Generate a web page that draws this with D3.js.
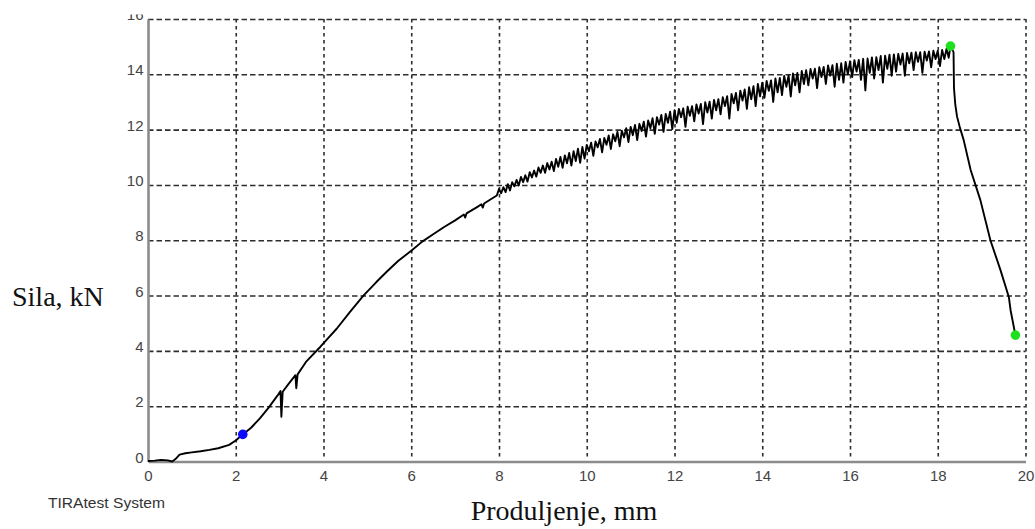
<!DOCTYPE html>
<html>
<head>
<meta charset="utf-8">
<script src="https://cdn.jsdelivr.net/npm/d3@7"></script>
<style>
  body { margin: 0; background: #fff; }
  .grid line { stroke: #2e2e2e; stroke-width: 1.6; }
  .grid .domain { display: none; }
  .ticks text { font-family: "Liberation Sans", Arial, sans-serif; font-size: 15px; fill: #444; }
  .ticks .domain { stroke: #8c8c8c; stroke-width: 2.6; }
  .label { font-family: "Liberation Serif", "Times New Roman", serif; font-size: 28px; fill: #111; }
</style>
</head>
<body>
<div id="chart"></div>
<script>

// tick labels
var xTicks = [0, 2, 4, 6, 8, 10, 12, 14, 16, 18, 20];
var yTicks = [0, 2, 4, 6, 8, 10, 12, 14, 16];

// smooth rising part of the curve: [elongation mm, force kN]
var rise = [[0, 0.02], [0.15, 0.03], [0.3, 0.06], [0.45, 0.04], [0.55, 0.0], [0.62, 0.08],
  [0.72, 0.25], [0.85, 0.3], [1.0, 0.33], [1.2, 0.37], [1.4, 0.42], [1.6, 0.48], [1.85, 0.6],
  [2.0, 0.76], [2.16, 0.98], [2.35, 1.22], [2.55, 1.56], [2.75, 1.95], [2.95, 2.38], [3.02, 2.55],
  [3.04, 1.62], [3.07, 2.52], [3.2, 2.8], [3.36, 3.12], [3.38, 2.65], [3.41, 3.15], [3.6, 3.6],
  [3.93, 4.15], [4.1, 4.45], [4.3, 4.8], [4.6, 5.4], [4.91, 6.0], [5.2, 6.48], [5.44, 6.86],
  [5.7, 7.25], [6.0, 7.62], [6.25, 7.95], [6.5, 8.22], [6.75, 8.48], [7.0, 8.72], [7.2, 8.93],
  [7.23, 8.82], [7.26, 8.97], [7.5, 9.2], [7.6, 9.3], [7.63, 9.18], [7.66, 9.33], [7.75, 9.42],
  [7.95, 9.62]];

// noisy band, one row per mm starting at bandStart, sampled every bandStep mm
var bandStart = 8;
var bandStep = 0.05;
var band = [
  [9.85, 9.70, 9.92, 9.74, 10.03, 9.80, 10.10, 9.95, 10.18, 9.98, 10.29, 10.10, 10.35, 10.12, 10.46, 10.27, 10.52, 10.30, 10.63, 10.44],
  [10.70, 10.44, 10.79, 10.56, 10.84, 10.50, 10.94, 10.66, 11.01, 10.62, 11.07, 10.78, 11.16, 10.70, 11.22, 10.86, 11.31, 10.80, 11.37, 10.95],
  [11.45, 11.22, 11.53, 11.05, 11.57, 11.36, 11.66, 11.18, 11.70, 11.45, 11.79, 11.30, 11.83, 11.58, 11.92, 11.40, 11.96, 11.72, 12.05, 11.55],
  [12.10, 11.80, 12.17, 11.62, 12.21, 11.95, 12.29, 11.75, 12.33, 12.05, 12.41, 11.85, 12.45, 12.18, 12.53, 11.92, 12.57, 12.25, 12.65, 12.02],
  [12.70, 12.25, 12.75, 12.45, 12.77, 12.10, 12.83, 12.50, 12.85, 12.30, 12.91, 12.58, 12.93, 12.20, 12.99, 12.62, 13.01, 12.40, 13.07, 12.70],
  [13.10, 12.55, 13.17, 12.85, 13.21, 12.40, 13.29, 12.95, 13.33, 12.70, 13.41, 13.05, 13.45, 12.75, 13.53, 13.10, 13.57, 12.85, 13.65, 13.20],
  [13.70, 13.15, 13.76, 13.40, 13.78, 13.00, 13.85, 13.35, 13.87, 13.25, 13.94, 13.55, 13.96, 13.20, 14.03, 13.60, 14.05, 13.35, 14.12, 13.65],
  [14.15, 13.60, 14.19, 13.85, 14.20, 13.50, 14.26, 13.90, 14.27, 13.65, 14.32, 13.95, 14.33, 13.55, 14.38, 13.80, 14.40, 13.70, 14.45, 14.00],
  [14.47, 13.90, 14.51, 14.10, 14.52, 13.80, 14.56, 13.42, 14.57, 14.05, 14.61, 13.85, 14.62, 14.15, 14.66, 13.70, 14.67, 14.20, 14.71, 13.95],
  [14.72, 14.10, 14.74, 14.35, 14.75, 13.95, 14.77, 14.40, 14.78, 14.15, 14.80, 14.45, 14.80, 14.05, 14.82, 14.50, 14.83, 14.25, 14.85, 14.55],
  [14.85, 14.30, 14.88, 14.55, 14.92, 14.60]
];

// peak and fracture drop
var drop = [[18.29, 15.02], [18.36, 14.8], [18.37, 13.5], [18.40, 12.9], [18.44, 12.47],
  [18.50, 12.1], [18.59, 11.63], [18.75, 10.54], [18.97, 9.46], [19.20, 8.0], [19.43, 6.92],
  [19.62, 5.95], [19.66, 5.47], [19.77, 4.57]];

// marked points (first blue, others green)
var markers = [[2.16, 0.98], [18.29, 15.02], [19.77, 4.57]];

var width = 1035, height = 529;

var x = d3.scaleLinear().domain([0, 20]).range([148, 1025.5]);
var y = d3.scaleLinear().domain([0, 16]).range([461.5, 19]);

var svg = d3.select("#chart").append("svg")
  .attr("width", width)
  .attr("height", height);

// the top label is cut off in the original screenshot
svg.append("defs").append("clipPath")
  .attr("id", "topcut")
  .append("rect")
  .attr("x", -160).attr("y", 14.5).attr("width", 170).attr("height", height);

// dashed grid
svg.append("g")
  .attr("class", "grid")
  .attr("transform", "translate(0," + y(0) + ")")
  .call(d3.axisBottom(x).tickValues(xTicks.slice(1)).tickSize(-(y(0) - y(16) - 5)).tickFormat(""))
  .selectAll("line")
  .attr("transform", "translate(0,-5)")
  .style("stroke-dasharray", "3.5,3.5");

svg.append("g")
  .attr("class", "grid")
  .attr("transform", "translate(" + x(0) + ",0)")
  .call(d3.axisLeft(y).tickValues(yTicks.slice(1)).tickSize(-(x(20) - x(0))).tickFormat(""))
  .selectAll("line")
  .style("stroke-dasharray", "5.5,3");

// axes with labels
var xAxis = d3.axisBottom(x).tickValues(xTicks).tickSize(0).tickSizeOuter(0).tickPadding(9);
var yAxis = d3.axisLeft(y).tickValues(yTicks).tickSize(0).tickSizeOuter(0).tickPadding(4.5);

svg.append("g")
  .attr("class", "ticks")
  .attr("transform", "translate(0," + y(0) + ")")
  .call(xAxis);

svg.append("g")
  .attr("class", "ticks")
  .attr("transform", "translate(" + x(0) + ",0)")
  .attr("clip-path", "url(#topcut)")
  .call(yAxis)
  .selectAll("text")
  .attr("dy", "0.04em");

// build the curve
var points = rise.slice();
band.forEach(function(row, i) {
  row.forEach(function(f, j) {
    points.push([bandStart + i + j * bandStep, f]);
  });
});
points = points.concat(drop);

var line = d3.line()
  .x(function(d) { return x(d[0]); })
  .y(function(d) { return y(d[1]); });

svg.append("path")
  .datum(points)
  .attr("d", line)
  .attr("fill", "none")
  .attr("stroke", "#000")
  .attr("stroke-width", 1.9)
  .attr("stroke-linejoin", "round");

svg.selectAll("circle.marker")
  .data(markers)
  .enter()
  .append("circle")
  .attr("class", "marker")
  .attr("cx", function(d) { return x(d[0]); })
  .attr("cy", function(d) { return y(d[1]); })
  .attr("r", 4.8)
  .attr("fill", function(d, i) { return i == 0 ? "#0a0aff" : "#1fe01f"; });

// titles
svg.append("text")
  .attr("class", "label")
  .attr("x", 12)
  .attr("y", 306)
  .text("Sila, kN");

svg.append("text")
  .attr("class", "label")
  .attr("x", 564)
  .attr("y", 520)
  .attr("text-anchor", "middle")
  .text("Produljenje, mm");

svg.append("text")
  .attr("x", 48)
  .attr("y", 508)
  .attr("textLength", 117)
  .attr("lengthAdjust", "spacingAndGlyphs")
  .style("font-family", "Liberation Sans, Arial, sans-serif")
  .style("font-size", "14.5px")
  .style("fill", "#333")
  .text("TIRAtest System");

</script>
</body>
</html>
